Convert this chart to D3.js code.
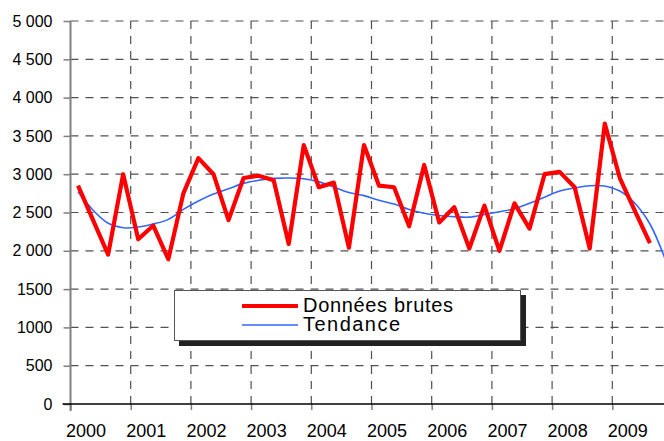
<!DOCTYPE html>
<html lang="fr">
<head>
    <meta charset="UTF-8">
    <script src="https://d3js.org/d3.v7.min.js"></script>
    <title>Données brutes et tendance</title>
    <style>
        body { margin: 0; background: white; }
        svg { display: block; font-family: Arial, "Liberation Sans", sans-serif; }
        .grid line { stroke: #505050; stroke-width: 1.2px; stroke-dasharray: 8 7; }
        .yaxis .domain { display: none; }
        .yaxis line { stroke: #7f7f7f; stroke-width: 1.5px; }
        .yaxis text { font-size: 16px; fill: #000; }
        .xaxis .domain { display: none; }
        .xaxis line { stroke: #7f7f7f; stroke-width: 1.5px; }
        .xaxis text { font-size: 18px; fill: #000; }
    </style>
</head>
<body>
<div id="chart"></div>
<script>
    // ---- data (quarterly values) ----
    const years = [2000, 2001, 2002, 2003, 2004, 2005, 2006, 2007, 2008, 2009];
    const yTicks = [0, 500, 1000, 1500, 2000, 2500, 3000, 3500, 4000, 4500, 5000];
    const yTickLabels = ["0", "500", "1000", "1500", "2 000", "2 500", "3 000", "3 500", "4 000", "4 500", "5 000"];

    const rawData = [
        2850, 2400, 1950, 3000,
        2150, 2330, 1890, 2750,
        3210, 3000, 2400, 2950,
        2980, 2920, 2090, 3380,
        2830, 2890, 2040, 3380,
        2850, 2830, 2320, 3120,
        2370, 2570, 2030, 2590,
        2000, 2620, 2290, 3000,
        3030, 2830, 2030, 3660,
        2950, 2520, 2100
    ];
    const trendData = [
        2770, 2530, 2360, 2300,
        2310, 2350, 2410, 2540,
        2650, 2740, 2810, 2880,
        2920, 2945, 2950, 2940,
        2900, 2830, 2760, 2720,
        2660, 2610, 2540, 2490,
        2460, 2445, 2440, 2475,
        2510, 2550, 2620, 2700,
        2780, 2820, 2850, 2845,
        2780, 2620, 2350, 1900
    ];
    const seriesNames = ["Données brutes", "Tendance"];

    const width = 664, height = 441;
    const plotLeft = 70.5, plotTop = 21, plotBottom = 404, plotRight = 664;

    const x = d3.scaleLinear().domain([2000, 2010]).range([plotLeft, plotLeft + 602]);
    const y = d3.scaleLinear().domain([0, 5000]).range([plotBottom, plotTop]);

    // quarter i -> middle of the quarter
    const qx = i => x(2000 + Math.floor(i / 4) + ((i % 4) + 0.5) / 4);

    const svg = d3.select("#chart").append("svg")
        .attr("width", width)
        .attr("height", height);

    svg.append("rect").attr("width", width).attr("height", height).attr("fill", "white");

    svg.append("clipPath").attr("id", "plot")
        .append("rect").attr("x", plotLeft).attr("y", 0).attr("width", plotRight - plotLeft).attr("height", plotBottom);

    // grid
    const grid = svg.append("g").attr("class", "grid");
    grid.selectAll(".h").data(yTicks.filter(d => d > 0)).enter().append("line")
        .attr("x1", plotLeft).attr("x2", plotRight)
        .attr("y1", d => y(d)).attr("y2", d => y(d));
    grid.selectAll(".v").data(years.slice(1)).enter().append("line")
        .attr("x1", d => x(d)).attr("x2", d => x(d))
        .attr("y1", plotTop).attr("y2", plotBottom);

    // y axis
    const yAxis = d3.axisLeft(y)
        .tickValues(yTicks)
        .tickSize(7)
        .tickPadding(11)
        .tickFormat((d, i) => yTickLabels[i]);
    svg.append("g").attr("class", "yaxis")
        .attr("transform", `translate(${plotLeft},0)`)
        .call(yAxis);
    svg.append("line")
        .attr("x1", plotLeft).attr("x2", plotLeft)
        .attr("y1", plotTop).attr("y2", plotBottom + 7)
        .attr("stroke", "#7f7f7f").attr("stroke-width", 2);

    // x axis
    const xAxis = d3.axisBottom(x)
        .tickValues(years)
        .tickSize(6)
        .tickFormat(d3.format("d"));
    const xg = svg.append("g").attr("class", "xaxis")
        .attr("transform", `translate(0,${plotBottom})`)
        .call(xAxis);
    xg.selectAll("text")
        .attr("text-anchor", "start")
        .attr("x", -5)
        .attr("y", 33)
        .attr("dy", 0);
    svg.append("line")
        .attr("x1", plotLeft - 8).attr("x2", plotRight)
        .attr("y1", plotBottom).attr("y2", plotBottom)
        .attr("stroke", "#000").attr("stroke-width", 1.5);

    // lines
    const rawLine = d3.line().x((d, i) => qx(i)).y(d => y(d));
    const trendLine = d3.line().x((d, i) => qx(i)).y(d => y(d)).curve(d3.curveCatmullRom.alpha(0.5));

    const plot = svg.append("g").attr("clip-path", "url(#plot)");
    plot.append("path").datum(trendData)
        .attr("d", trendLine)
        .attr("fill", "none")
        .attr("stroke", "#3366ff")
        .attr("stroke-width", 1.6);
    plot.append("path").datum(rawData)
        .attr("d", rawLine)
        .attr("fill", "none")
        .attr("stroke", "#ff0000")
        .attr("stroke-width", 4.2)
        .attr("stroke-linejoin", "round");

    // legend
    const lg = svg.append("g");
    lg.append("rect")
        .attr("x", 179).attr("y", 295).attr("width", 347).attr("height", 51)
        .attr("fill", "#222");
    lg.append("rect")
        .attr("x", 174.5).attr("y", 290.5).attr("width", 346).attr("height", 50)
        .attr("fill", "white").attr("stroke", "#555").attr("stroke-width", 1);
    const legendItems = [
        { name: seriesNames[0], color: "#ff0000", w: 4, yy: 306, ty: 312 },
        { name: seriesNames[1], color: "#3366ff", w: 1.6, yy: 325, ty: 331 }
    ];
    legendItems.forEach(it => {
        lg.append("line")
            .attr("x1", 242).attr("x2", 298)
            .attr("y1", it.yy).attr("y2", it.yy)
            .attr("stroke", it.color).attr("stroke-width", it.w);
        lg.append("text")
            .attr("x", 303).attr("y", it.ty)
            .attr("font-size", 20)
            .attr("textLength", it.name.length > 10 ? 150 : 97)
            .text(it.name);
    });
</script>
</body>
</html>
